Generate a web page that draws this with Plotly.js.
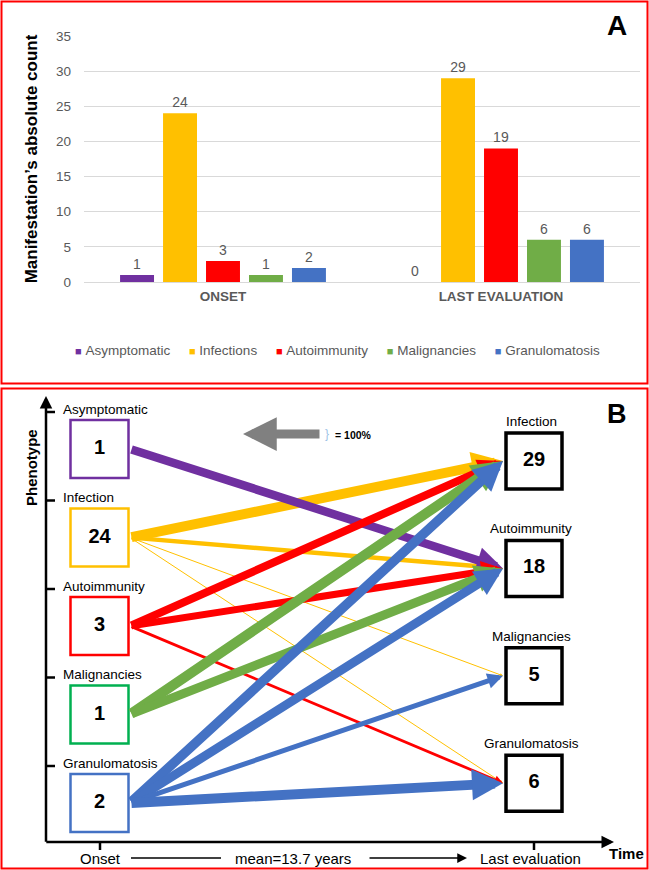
<!DOCTYPE html>
<html>
<head>
<meta charset="utf-8">
<script src="https://cdn.plot.ly/plotly-3.0.1.min.js"></script>
<style>
html,body{margin:0;padding:0;background:#ffffff;}
#chart{width:649px;height:870px;}
</style>
</head>
<body>
<div id="chart"></div>
<script>
// ---------------- Panel A data ----------------
const stages = ['ONSET', 'LAST EVALUATION'];
const seriesNames = ['Asymptomatic', 'Infections', 'Autoimmunity', 'Malignancies', 'Granulomatosis'];
const asymptomatic = [1, 0];
const infections = [24, 29];
const autoimmunity = [3, 19];
const malignancies = [1, 6];
const granulomatosis = [2, 6];
const yAxisTitle = 'Manifestation\u2019s absolute count';

// ---------------- Panel B data ----------------
const onsetPhenotypes = ['Asymptomatic', 'Infection', 'Autoimmunity', 'Malignancies', 'Granulomatosis'];
const onsetCounts = [1, 24, 3, 1, 2];
const lastPhenotypes = ['Infection', 'Autoimmunity', 'Malignancies', 'Granulomatosis'];
const lastCounts = [29, 18, 5, 6];
// transitions onset -> last evaluation (relative thickness, % of the 100% reference arrow)
const flowFrom = ['Infection', 'Infection', 'Infection', 'Infection', 'Asymptomatic',
                  'Autoimmunity', 'Autoimmunity', 'Autoimmunity', 'Malignancies', 'Malignancies',
                  'Granulomatosis', 'Granulomatosis', 'Granulomatosis', 'Granulomatosis'];
const flowTo = ['Infection', 'Autoimmunity', 'Malignancies', 'Granulomatosis', 'Autoimmunity',
                'Infection', 'Autoimmunity', 'Granulomatosis', 'Infection', 'Autoimmunity',
                'Infection', 'Autoimmunity', 'Malignancies', 'Granulomatosis'];
const flowPct = [100, 45, 10, 10, 85, 80, 70, 28, 100, 90, 95, 90, 50, 100];
const timeLabels = ['Onset', 'Last evaluation'];
const meanFollowUp = 'mean=13.7 years';
const axisTitleY = 'Phenotype';
const axisTitleX = 'Time';
const referenceLabel = '= 100%';

// ---------------- styles ----------------
const FONT = 'Liberation Sans, Arial, Helvetica, sans-serif';
const barColors = ['#7030A0', '#FFC000', '#FF0000', '#70AD47', '#4472C4'];
const onsetBoxColors = ['#7030A0', '#FFC000', '#FF0000', '#00B050', '#4472C4'];
const flowColors = {Asymptomatic: '#7030A0', Infection: '#FFC000', Autoimmunity: '#FF0000', Malignancies: '#70AD47', Granulomatosis: '#4472C4'};
const W = 649, H = 870;
const px = v => v / W;
const py = v => 1 - v / H;

// panel B geometry (pixel units of the x2/y2 canvas axes)
const onsetX = 99.5, lastX = 533;
const onsetHalf = 30.5, lastHalf = 30;
const onsetY = i => 449 + 88.5 * i;
const lastY = i => 461 + 107.4 * i;
const pctToPx = 0.1;

const seriesValues = [asymptomatic, infections, autoimmunity, malignancies, granulomatosis];
const traces = seriesValues.map((vals, k) => ({
  type: 'bar', name: seriesNames[k], x: stages, y: vals,
  marker: {color: barColors[k]},
  text: vals.map(String), textposition: 'outside', cliponaxis: false,
  textfont: {family: FONT, size: 14, color: '#595959'},
  hoverinfo: 'skip', xaxis: 'x', yaxis: 'y', showlegend: false
}));

traces.push({
  type: 'scatter', mode: 'markers+text', xaxis: 'x2', yaxis: 'y2',
  x: onsetPhenotypes.map(() => onsetX), y: onsetPhenotypes.map((_, i) => onsetY(i)),
  text: onsetCounts.map(String), textposition: 'middle center',
  textfont: {family: FONT, size: 20, weight: 'bold', color: '#000000'},
  marker: {symbol: 'square', size: 58, color: '#ffffff', line: {width: 2.5, color: onsetBoxColors}},
  showlegend: false, hoverinfo: 'skip', cliponaxis: false
});
traces.push({
  type: 'scatter', mode: 'markers+text', xaxis: 'x2', yaxis: 'y2',
  x: lastPhenotypes.map(() => lastX + 1), y: lastPhenotypes.map((_, i) => lastY(i)),
  text: lastCounts.map(String), textposition: 'middle center',
  textfont: {family: FONT, size: 20, weight: 'bold', color: '#000000'},
  marker: {symbol: 'square', size: 56, color: '#ffffff', line: {width: 3.5, color: '#000000'}},
  showlegend: false, hoverinfo: 'skip', cliponaxis: false
});

const ann = [];
const shapes = [];
const canvasRef = {xref: 'x2', yref: 'y2'};

// flows
flowFrom.forEach((src, k) => {
  const i = onsetPhenotypes.indexOf(src);
  const j = lastPhenotypes.indexOf(flowTo[k]);
  ann.push(Object.assign({}, canvasRef, {
    axref: 'x2', ayref: 'y2',
    x: lastX - lastHalf, y: lastY(j), ax: onsetX + onsetHalf, ay: onsetY(i),
    text: '', showarrow: true, arrowhead: 2, arrowsize: 0.62,
    arrowwidth: Math.max(1, flowPct[k] * pctToPx), arrowcolor: flowColors[src], standoff: 0
  }));
});

// node labels
onsetPhenotypes.forEach((name, i) => {
  ann.push(Object.assign({}, canvasRef, {x: 61, y: onsetY(i) - 40, text: name, showarrow: false,
    xanchor: 'left', yanchor: 'middle', font: {family: FONT, size: 13.5, color: '#000'}}));
});
lastPhenotypes.forEach((name, j) => {
  ann.push(Object.assign({}, canvasRef, {x: lastX - 2, y: lastY(j) - 39.5, text: name, showarrow: false,
    xanchor: 'center', yanchor: 'middle', font: {family: FONT, size: 13.5, color: '#000'}}));
});

// phenotype axis ticks
onsetPhenotypes.forEach((_, i) => {
  shapes.push(Object.assign({}, canvasRef, {type: 'line', x0: 46, x1: 55, y0: onsetY(i) - 37, y1: onsetY(i) - 37,
    line: {color: '#000', width: 2.5}}));
});
// time axis ticks
[onsetX + 0.5, lastX + 1].forEach(xv => {
  shapes.push(Object.assign({}, canvasRef, {type: 'line', x0: xv, x1: xv, y0: 842, y1: 850,
    line: {color: '#000', width: 2.5}}));
});
// axes (arrows)
ann.push(Object.assign({}, canvasRef, {axref: 'x2', ayref: 'y2', x: 46, y: 396, ax: 46, ay: 843.2,
  text: '', showarrow: true, arrowhead: 2, arrowsize: 1, arrowwidth: 2.5, arrowcolor: '#000', standoff: 0}));
ann.push(Object.assign({}, canvasRef, {axref: 'x2', ayref: 'y2', x: 614, y: 842, ax: 44.8, ay: 842,
  text: '', showarrow: true, arrowhead: 2, arrowsize: 1, arrowwidth: 2.5, arrowcolor: '#000', standoff: 0}));

// axis titles
ann.push(Object.assign({}, canvasRef, {x: 31, y: 468, text: '<b>' + axisTitleY + '</b>', textangle: -90, showarrow: false,
  xanchor: 'center', yanchor: 'middle', font: {family: FONT, size: 15, color: '#000'}}));
ann.push(Object.assign({}, canvasRef, {x: 626, y: 853, text: '<b>' + axisTitleX + '</b>', showarrow: false,
  xanchor: 'center', yanchor: 'middle', font: {family: FONT, size: 15, color: '#000'}}));
// time labels
ann.push(Object.assign({}, canvasRef, {x: onsetX + 1, y: 858, text: timeLabels[0], showarrow: false,
  xanchor: 'center', yanchor: 'middle', font: {family: FONT, size: 15, color: '#000'}}));
ann.push(Object.assign({}, canvasRef, {x: 293, y: 858, text: meanFollowUp, showarrow: false,
  xanchor: 'center', yanchor: 'middle', font: {family: FONT, size: 15, color: '#000'}}));
ann.push(Object.assign({}, canvasRef, {x: 530.5, y: 858, text: timeLabels[1], showarrow: false,
  xanchor: 'center', yanchor: 'middle', font: {family: FONT, size: 15, color: '#000'}}));
shapes.push(Object.assign({}, canvasRef, {type: 'line', x0: 131, x1: 221, y0: 858, y1: 858, line: {color: '#000', width: 1.5}}));
ann.push(Object.assign({}, canvasRef, {axref: 'x2', ayref: 'y2', x: 467, y: 858, ax: 368, ay: 858,
  text: '', showarrow: true, arrowhead: 2, arrowsize: 1.3, arrowwidth: 1.5, arrowcolor: '#000', standoff: 0}));

// 100% reference arrow
ann.push(Object.assign({}, canvasRef, {axref: 'x2', ayref: 'y2', x: 243, y: 434, ax: 321, ay: 434,
  text: '', showarrow: true, arrowhead: 2, arrowsize: 0.75, arrowwidth: 9, arrowcolor: '#808080', standoff: 0}));
ann.push(Object.assign({}, canvasRef, {x: 327, y: 434, text: '}', showarrow: false,
  xanchor: 'center', yanchor: 'middle', font: {family: FONT, size: 12, color: '#9DC3E6'}}));
ann.push(Object.assign({}, canvasRef, {x: 333, y: 435, text: '<b>' + referenceLabel + '</b>', showarrow: false,
  xanchor: 'left', yanchor: 'middle', font: {family: FONT, size: 10.5, color: '#000'}}));

// legend for panel A
const legendText = seriesNames.map((n, k) =>
  '<span style="color:' + barColors[k] + ';font-size:11px">\u25A0</span>&nbsp;' + n).join('&nbsp;&nbsp;&nbsp;&nbsp;&nbsp;');
ann.push({xref: 'paper', yref: 'paper', x: px(337.5), y: py(350), xanchor: 'center', yanchor: 'middle',
  text: legendText, showarrow: false, font: {family: FONT, size: 13.5, color: '#595959'}});

// panel letters
ann.push({xref: 'paper', yref: 'paper', x: px(617), y: py(25), xanchor: 'center', yanchor: 'middle', text: '<b>A</b>', showarrow: false,
  font: {family: FONT, size: 28, color: '#000'}});
ann.push({xref: 'paper', yref: 'paper', x: px(617), y: py(414), xanchor: 'center', yanchor: 'middle', text: '<b>B</b>', showarrow: false,
  font: {family: FONT, size: 27, color: '#000'}});

// panel frames
shapes.push({type: 'rect', xref: 'paper', yref: 'paper', x0: px(1.5), x1: px(647.5), y0: py(383.5), y1: py(1.5),
  line: {color: '#FF0000', width: 2}});
shapes.push({type: 'rect', xref: 'paper', yref: 'paper', x0: px(1.5), x1: px(647.5), y0: py(868.5), y1: py(388.5),
  line: {color: '#FF0000', width: 2}});

const layout = {
  width: W, height: H, autosize: false,
  margin: {l: 0, r: 0, t: 0, b: 0, pad: 0},
  paper_bgcolor: '#ffffff', plot_bgcolor: 'rgba(0,0,0,0)',
  font: {family: FONT, color: '#595959'},
  barmode: 'group', bargap: 0.227, bargroupgap: 0.21,
  hovermode: false,
  xaxis: {domain: [px(84), px(640)], anchor: 'y', type: 'category', showgrid: false, zeroline: false,
    showline: false, ticks: '', ticklabelstandoff: 4,
    tickfont: {family: FONT, size: 13.5, color: '#595959', weight: 'bold'}},
  yaxis: {domain: [py(282), py(36)], anchor: 'x', range: [0, 35], dtick: 5, tick0: 0,
    showgrid: true, gridcolor: '#D9D9D9', gridwidth: 1, zeroline: true, zerolinecolor: '#D9D9D9', zerolinewidth: 1,
    showline: false, ticks: '', ticklabelstandoff: 12,
    tickfont: {family: FONT, size: 13.5, color: '#595959'},
    title: {text: yAxisTitle, font: {family: FONT, size: 17, color: '#000', weight: 'bold'}, standoff: 14}},
  xaxis2: {domain: [0, 1], anchor: 'y2', range: [0, W], visible: false, fixedrange: true},
  yaxis2: {domain: [0, 1], anchor: 'x2', range: [H, 0], visible: false, fixedrange: true},
  showlegend: false,
  annotations: ann,
  shapes: shapes
};

Plotly.newPlot('chart', traces, layout, {displayModeBar: false, staticPlot: true});
</script>
</body>
</html>
